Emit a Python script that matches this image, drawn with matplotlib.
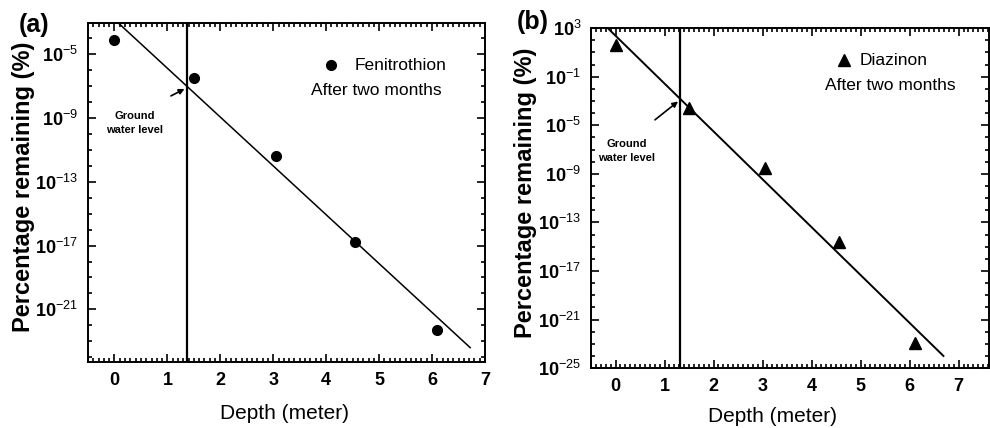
import matplotlib

matplotlib.use("Agg")

import matplotlib.pyplot as plt
import numpy as np
from matplotlib.ticker import FixedLocator, FuncFormatter, MultipleLocator

plt.rcParams["font.family"] = ["Liberation Sans", "DejaVu Sans"]
plt.rcParams["mathtext.fontset"] = "custom"
plt.rcParams["mathtext.rm"] = "Liberation Sans"
plt.rcParams["mathtext.it"] = "Liberation Sans"
plt.rcParams["mathtext.bf"] = "Liberation Sans:bold"

# measured depths (m) and log10 of percentage remaining
depth = [0.0, 1.5, 3.05, 4.55, 6.1]
fenitrothion_log = [-4.1, -6.5, -11.4, -16.75, -22.3]
diazinon_log = [1.6, -3.6, -8.5, -14.6, -22.9]

# fitted lines, endpoints as drawn
fen_fit_depth = [0.09, 6.72]
fen_fit_log = [-3.1, -23.4]
dia_fit_depth = [-0.16, 6.69]
dia_fit_log = [3.0, -24.0]

ground_water = [1.37, 1.32]

fen_major = [-5, -9, -13, -17, -21]
dia_major = [3, -1, -5, -9, -13, -17, -21, -25]

x_ticks = list(range(0, 8))


def decade_label(value, _pos):
    exponent = int(round(np.log10(value)))
    return r"$\mathbf{10}^{\mathrm{%d}}$" % exponent


def style_axis(ax, majors, ylim, xlim):
    ax.set_yscale("log")
    ax.set_xlim(*xlim)
    ax.set_ylim(10.0 ** ylim[0], 10.0 ** ylim[1])
    ax.xaxis.set_major_locator(FixedLocator(x_ticks))
    ax.xaxis.set_minor_locator(MultipleLocator(0.1))
    ax.yaxis.set_major_locator(FixedLocator([10.0 ** k for k in majors]))
    ax.yaxis.set_minor_locator(FixedLocator([10.0 ** k for k in range(-30, 6)]))
    ax.yaxis.set_major_formatter(FuncFormatter(decade_label))
    ax.yaxis.set_minor_formatter(FuncFormatter(lambda v, p: ""))
    ax.tick_params(which="both", direction="in", top=True, right=True, width=1.2)
    ax.tick_params(which="major", length=6, labelsize=13, pad=7)
    ax.tick_params(which="minor", length=3)
    for label in ax.get_xticklabels():
        label.set_fontweight("bold")
    for spine in ax.spines.values():
        spine.set_linewidth(1.4)


fig = plt.figure(figsize=(9.9, 4.28), dpi=100)
ax_a = fig.add_axes([0.0889, 0.1542, 0.401, 0.792])
ax_b = fig.add_axes([0.597, 0.140, 0.402, 0.7944])

# panel (a)
style_axis(ax_a, fen_major, (-24.3, -3.05), (-0.5, 7.0))
ax_a.plot(depth, 10.0 ** np.array(fenitrothion_log), "o", color="black", markersize=7)
ax_a.plot(fen_fit_depth, 10.0 ** np.array(fen_fit_log), color="black", linewidth=1.1)
ax_a.axvline(ground_water[0], color="black", linewidth=1.6)
ax_a.annotate(
    "",
    xy=(ground_water[0], 10.0 ** -7.1),
    xytext=(1.02, 10.0 ** -7.7),
    arrowprops=dict(arrowstyle="-|>", color="black", lw=1.2, mutation_scale=8),
)
ax_a.text(0.38, 10.0 ** -9.3, "Ground\nwater level", ha="center", va="center",
          fontsize=8, fontweight="bold", linespacing=1.5)
ax_a.plot([0.612], [0.876], "o", color="black", markersize=7, transform=ax_a.transAxes)
ax_a.text(0.672, 0.876, "Fenitrothion", transform=ax_a.transAxes, va="center", fontsize=12.5)
ax_a.text(0.727, 0.80, "After two months", transform=ax_a.transAxes, ha="center",
          va="center", fontsize=12.5)
ax_a.text(-0.162, 0.516, "Percentage remaining (%)", transform=ax_a.transAxes, rotation=90,
          ha="center", va="center", fontsize=17, fontweight="bold")
ax_a.text(0.496, -0.153, "Depth (meter)", transform=ax_a.transAxes, ha="center",
          va="center", fontsize=15)
fig.text(0.034, 0.942, "(a)", ha="center", va="center", fontsize=18, fontweight="bold")

# panel (b)
style_axis(ax_b, dia_major, (-25.0, 3.0), (-0.5, 7.62))
ax_b.plot(depth, 10.0 ** np.array(diazinon_log), "^", color="black", markersize=8)
ax_b.plot(dia_fit_depth, 10.0 ** np.array(dia_fit_log), color="black", linewidth=1.4)
ax_b.axvline(ground_water[1], color="black", linewidth=1.6)
ax_b.annotate(
    "",
    xy=(ground_water[1], 10.0 ** -2.9),
    xytext=(0.76, 10.0 ** -4.7),
    arrowprops=dict(arrowstyle="-|>", color="black", lw=1.2, mutation_scale=8),
)
ax_b.text(0.22, 10.0 ** -7.1, "Ground\nwater level", ha="center", va="center",
          fontsize=8, fontweight="bold", linespacing=1.5)
ax_b.plot([0.636], [0.906], "^", color="black", markersize=8, transform=ax_b.transAxes)
ax_b.text(0.676, 0.906, "Diazinon", transform=ax_b.transAxes, va="center", fontsize=12.5)
ax_b.text(0.752, 0.832, "After two months", transform=ax_b.transAxes, ha="center",
          va="center", fontsize=12.5)
ax_b.text(-0.165, 0.515, "Percentage remaining (%)", transform=ax_b.transAxes, rotation=90,
          ha="center", va="center", fontsize=17, fontweight="bold")
ax_b.text(0.455, -0.141, "Depth (meter)", transform=ax_b.transAxes, ha="center",
          va="center", fontsize=15)
fig.text(0.538, 0.949, "(b)", ha="center", va="center", fontsize=18, fontweight="bold")

fig.savefig("out.png", dpi=100)
plt.close(fig)
